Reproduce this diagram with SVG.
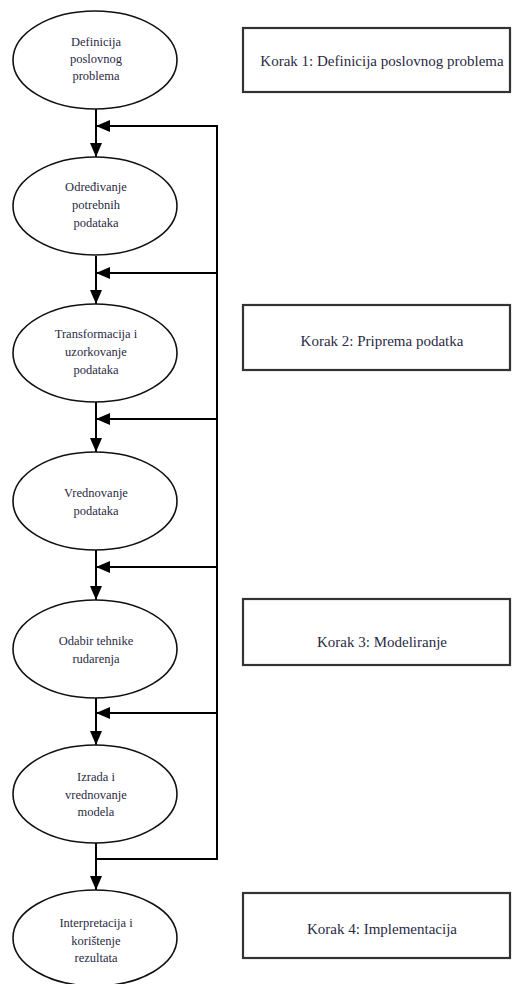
<svg xmlns="http://www.w3.org/2000/svg" width="512" height="984" viewBox="0 0 512 984">
  <defs>
    <marker id="ah" markerUnits="userSpaceOnUse" markerWidth="14" markerHeight="12" refX="14" refY="6" orient="auto">
      <path d="M0,0 L14,6 L0,12 Z" fill="#000"/>
    </marker>
  </defs>
  <style>
    .ell { fill: #fff; stroke: #111; stroke-width: 1.6; }
    .box { fill: #fff; stroke: #333; stroke-width: 2.2; }
    .nt { font-family: "Liberation Serif", "Times New Roman", serif; font-size: 12.5px; fill: #2a2a44; text-anchor: middle; }
    .bt { font-family: "Liberation Serif", "Times New Roman", serif; font-size: 15px; fill: #2a2a44; text-anchor: middle; }
    .ln { fill: none; stroke: #000; stroke-width: 2; }
  </style>
  <rect width="512" height="984" fill="#fff"/>

  <g id="connectors">
    <line class="ln" x1="96" y1="109" x2="96" y2="157" marker-end="url(#ah)"/>
    <line class="ln" x1="96" y1="256" x2="96" y2="304" marker-end="url(#ah)"/>
    <line class="ln" x1="96" y1="402" x2="96" y2="452" marker-end="url(#ah)"/>
    <line class="ln" x1="96" y1="550" x2="96" y2="600" marker-end="url(#ah)"/>
    <line class="ln" x1="96" y1="698" x2="96" y2="745" marker-end="url(#ah)"/>
    <line class="ln" x1="96" y1="843" x2="96" y2="890" marker-end="url(#ah)"/>
    <line class="ln" x1="217" y1="125" x2="217" y2="860"/>
    <line class="ln" x1="217" y1="126" x2="96" y2="126" marker-end="url(#ah)"/>
    <line class="ln" x1="217" y1="273" x2="96" y2="273" marker-end="url(#ah)"/>
    <line class="ln" x1="217" y1="419" x2="96" y2="419" marker-end="url(#ah)"/>
    <line class="ln" x1="217" y1="567" x2="96" y2="567" marker-end="url(#ah)"/>
    <line class="ln" x1="217" y1="713" x2="96" y2="713" marker-end="url(#ah)"/>
    <line class="ln" x1="218" y1="859" x2="96" y2="859"/>
  </g>

  <g id="n1">
    <ellipse class="ell" cx="95" cy="60" rx="82" ry="49"/>
    <text class="nt" x="96" y="46">Definicija</text>
    <text class="nt" x="96" y="63">poslovnog</text>
    <text class="nt" x="96" y="80">problema</text>
  </g>
  <g id="n2">
    <ellipse class="ell" cx="95" cy="206" rx="82" ry="49"/>
    <text class="nt" x="96" y="191">Određivanje</text>
    <text class="nt" x="96" y="209">potrebnih</text>
    <text class="nt" x="96" y="227">podataka</text>
  </g>
  <g id="n3">
    <ellipse class="ell" cx="95" cy="353" rx="82" ry="49"/>
    <text class="nt" x="96" y="338">Transformacija i</text>
    <text class="nt" x="96" y="356">uzorkovanje</text>
    <text class="nt" x="96" y="374">podataka</text>
  </g>
  <g id="n4">
    <ellipse class="ell" cx="95" cy="501" rx="82" ry="49"/>
    <text class="nt" x="96" y="497">Vrednovanje</text>
    <text class="nt" x="96" y="515">podataka</text>
  </g>
  <g id="n5">
    <ellipse class="ell" cx="95" cy="649" rx="82" ry="49"/>
    <text class="nt" x="96" y="645">Odabir tehnike</text>
    <text class="nt" x="96" y="663">rudarenja</text>
  </g>
  <g id="n6">
    <ellipse class="ell" cx="95" cy="794" rx="82" ry="49"/>
    <text class="nt" x="96" y="781">Izrada i</text>
    <text class="nt" x="96" y="799">vrednovanje</text>
    <text class="nt" x="96" y="816">modela</text>
  </g>
  <g id="n7">
    <ellipse class="ell" cx="95" cy="938" rx="82" ry="48"/>
    <text class="nt" x="96" y="927">Interpretacija i</text>
    <text class="nt" x="96" y="945">korištenje</text>
    <text class="nt" x="96" y="962">rezultata</text>
  </g>

  <g id="k1">
    <rect class="box" x="243" y="28" width="267" height="64"/>
    <text class="bt" x="382" y="66">Korak 1: Definicija poslovnog problema</text>
  </g>
  <g id="k2">
    <rect class="box" x="243" y="305" width="267" height="65"/>
    <text class="bt" x="382" y="346">Korak 2: Priprema podatka</text>
  </g>
  <g id="k3">
    <rect class="box" x="243" y="599" width="267" height="66"/>
    <text class="bt" x="382" y="647">Korak 3: Modeliranje</text>
  </g>
  <g id="k4">
    <rect class="box" x="243" y="893" width="267" height="65"/>
    <text class="bt" x="382" y="934">Korak 4: Implementacija</text>
  </g>
</svg>
